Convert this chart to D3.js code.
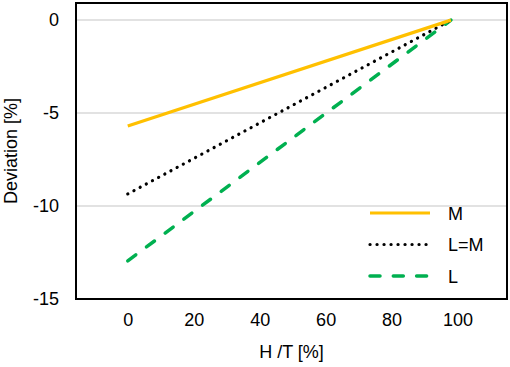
<!DOCTYPE html>
<html lang="en">
<head>
<meta charset="utf-8">
<script src="https://d3js.org/d3.v7.min.js"></script>
<style>
  body { margin: 0; background: #fff; }
  text { font-family: "Liberation Sans", Arial, sans-serif; fill: #000; }
</style>
</head>
<body>
<div id="chart"></div>
<script>
// data
const xValues = [0, 98];
const seriesNames = ["M", "L=M", "L"];
const mValues = [-5.7, 0];
const lmValues = [-9.35, 0];
const lValues = [-12.95, 0];
const xTicks = [0, 20, 40, 60, 80, 100];
const yTicks = [0, -5, -10, -15];

const width = 510, height = 367;
const plotLeft = 76, plotRight = 507, plotTop = 3, plotBottom = 299;

const svg = d3.select("#chart").append("svg")
    .attr("width", width)
    .attr("height", height);

const x = d3.scaleLinear().domain([-15.7, 115]).range([plotLeft, plotRight]);
const y = d3.scaleLinear().domain([-15, 0.92]).range([plotBottom, plotTop]);

// gridlines
svg.append("g")
    .selectAll("line")
    .data(yTicks.filter(d => d !== -15))
    .enter()
    .append("line")
    .attr("x1", plotLeft).attr("x2", plotRight)
    .attr("y1", d => y(d)).attr("y2", d => y(d))
    .attr("stroke", "#d9d9d9")
    .attr("stroke-width", 1.5);

// axes (labels only, frame drawn separately); plain hyphen for minus like excel
const xAxis = d3.axisBottom(x).tickValues(xTicks).tickSize(0).tickPadding(14)
    .tickFormat(d => String(d));
const yAxis = d3.axisLeft(y).tickValues(yTicks).tickSize(0).tickPadding(17)
    .tickFormat(d => String(d));

const gx = svg.append("g")
    .attr("transform", "translate(0," + plotBottom + ")")
    .call(xAxis);
gx.select(".domain").remove();
gx.selectAll("text").style("font-size", "18px")
    .attr("font-family", "Liberation Sans, Arial, sans-serif");

const gy = svg.append("g")
    .attr("transform", "translate(" + plotLeft + ",0)")
    .call(yAxis);
gy.select(".domain").remove();
gy.selectAll("text").style("font-size", "18px")
    .attr("font-family", "Liberation Sans, Arial, sans-serif");

// series
const series = [
    { name: seriesNames[0], values: mValues, color: "#ffc000", dash: null, width: 3.2 },
    { name: seriesNames[1], values: lmValues, color: "#000000", dash: "0.1,6.9", width: 3.2 },
    { name: seriesNames[2], values: lValues, color: "#00b050", dash: "10,13.3", width: 3.5 }
];

const line = d3.line()
    .x((d, i) => x(xValues[i]))
    .y(d => y(d));

// draw L first, M on top like the picture
series.slice().reverse().forEach(s => {
    svg.append("path")
        .datum(s.values)
        .attr("d", line)
        .attr("fill", "none")
        .attr("stroke", s.color)
        .attr("stroke-width", s.width)
        .attr("stroke-linecap", s.dash ? "round" : "butt")
        .attr("stroke-dasharray", s.dash);
});

// frame
svg.append("rect")
    .attr("x", plotLeft).attr("y", plotTop)
    .attr("width", plotRight - plotLeft).attr("height", plotBottom - plotTop)
    .attr("fill", "none")
    .attr("stroke", "#000")
    .attr("stroke-width", 2);

// legend
const legend = svg.append("g");
series.forEach((s, i) => {
    const ly = 213 + i * 31.5;
    legend.append("line")
        .attr("x1", 370).attr("x2", 430)
        .attr("y1", ly).attr("y2", ly)
        .attr("stroke", s.color)
        .attr("stroke-width", s.width)
        .attr("stroke-linecap", s.dash ? "round" : "butt")
        .attr("stroke-dasharray", s.dash);
    legend.append("text")
        .attr("x", 448).attr("y", ly + 6.5)
        .style("font-size", "18px")
        .text(s.name);
});

// axis titles
svg.append("text")
    .attr("x", (plotLeft + plotRight) / 2).attr("y", 358)
    .attr("text-anchor", "middle")
    .style("font-size", "18px")
    .text("H /T [%]");

svg.append("text")
    .attr("transform", "translate(17," + ((plotTop + plotBottom) / 2) + ") rotate(-90)")
    .attr("text-anchor", "middle")
    .style("font-size", "18px")
    .text("Deviation [%]");
</script>
</body>
</html>
